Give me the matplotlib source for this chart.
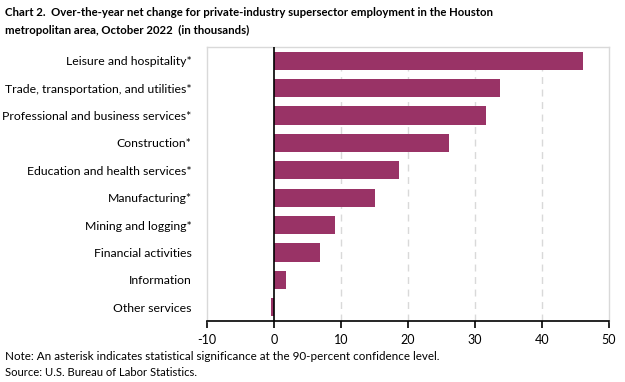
import matplotlib
matplotlib.use("Agg")
import matplotlib.pyplot as plt

# Over-the-year net change, Houston, October 2022 (thousands)
sectores = [
    "Leisure and hospitality*",
    "Trade, transportation, and utilities*",
    "Professional and business services*",
    "Construction*",
    "Education and health services*",
    "Manufacturing*",
    "Mining and logging*",
    "Financial activities",
    "Information",
    "Other services",
]
valores = [46.1, 33.8, 31.7, 26.1, 18.6, 15.0, 9.1, 6.8, 1.8, -0.5]
ticks_x = [-10, 0, 10, 20, 30, 40, 50]

plt.rcParams['font.family'] = ['Lato', 'DejaVu Sans']

fig = plt.figure(figsize=(6.25, 3.82), dpi=100)
ax = fig.add_axes([207 / 625, 1 - 321 / 382, 402 / 625, 274 / 382])

pos = list(range(len(sectores)))
ax.barh(pos, valores, height=0.66, color='#993366', zorder=3)
ax.set_ylim(len(sectores) - 0.5, -0.5)
ax.set_xlim(-10, 50)
ax.set_xticks(ticks_x)
ax.set_xticklabels([str(t) for t in ticks_x], fontsize=9)
ax.set_yticks(pos)
ax.set_yticklabels(sectores, fontsize=8.8)
ax.tick_params(axis='y', length=0, pad=11)
ax.tick_params(axis='x', direction='out', length=5, width=1.2, color='black', pad=4)

# grade tracejada
for t in ticks_x[2:-1]:
    ax.axvline(t, color='#d9d9d9', linestyle=(0, (5, 4)), linewidth=1, zorder=1)
ax.axvline(0, color='black', linewidth=1.2, zorder=4)

for lado in ['left', 'right', 'top']:
    ax.spines[lado].set_color('#d9d9d9')
    ax.spines[lado].set_linewidth(1)
ax.spines['bottom'].set_color('black')
ax.spines['bottom'].set_linewidth(1.2)

fig.text(0.008, 1 - 13 / 382, "Chart 2.  Over-the-year net change for private-industry supersector employment in the Houston",
         fontsize=8.2, fontweight='bold', va='center', ha='left')
fig.text(0.008, 1 - 30 / 382, "metropolitan area, October 2022  (in thousands)",
         fontsize=8.2, fontweight='bold', va='center', ha='left')
fig.text(0.008, 1 - 356 / 382, "Note: An asterisk indicates statistical significance at the 90-percent confidence level.",
         fontsize=8.4, va='center', ha='left')
fig.text(0.008, 1 - 372 / 382, "Source: U.S. Bureau of Labor Statistics.",
         fontsize=8.1, va='center', ha='left')

fig.savefig("out.png", dpi=100)
